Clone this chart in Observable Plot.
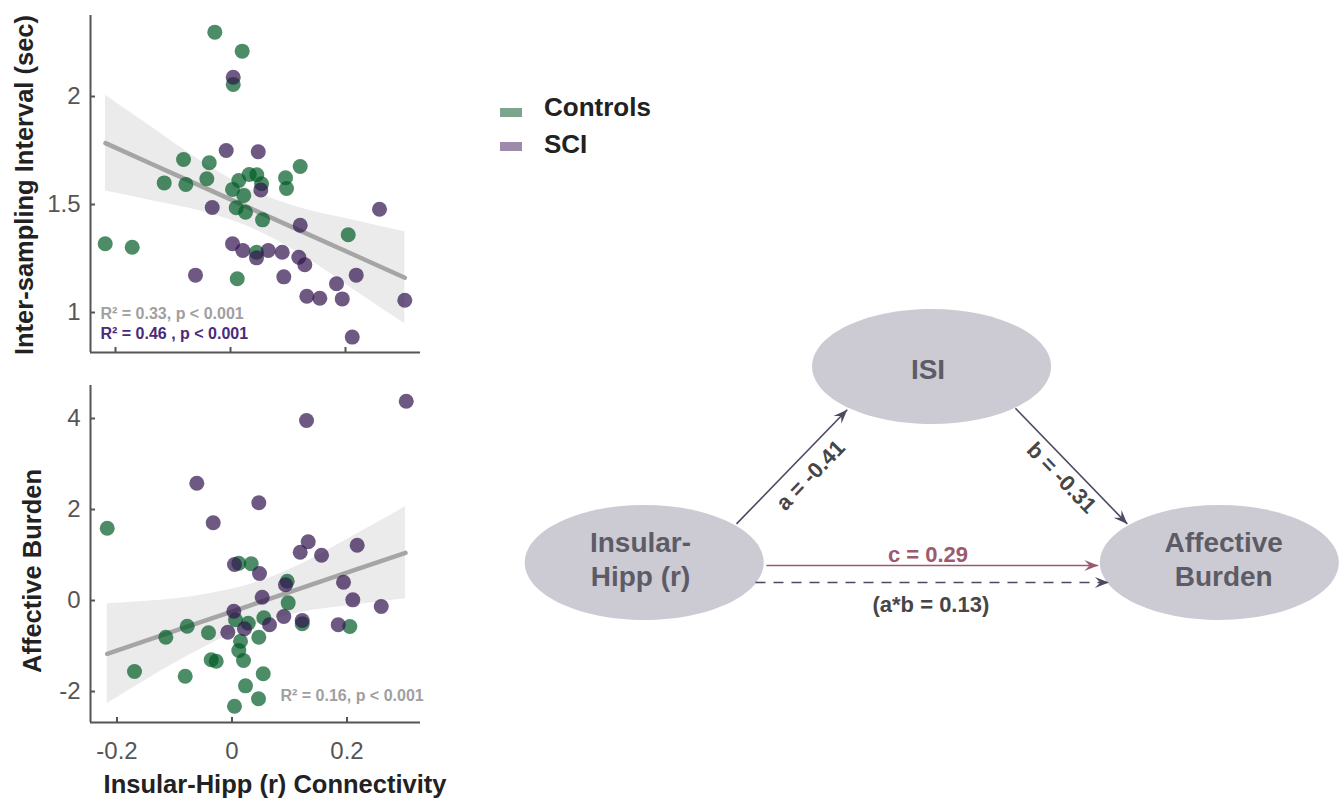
<!DOCTYPE html>
<html>
<head>
<meta charset="utf-8">
<script src="https://cdn.jsdelivr.net/npm/d3@7"></script>
<script src="https://cdn.jsdelivr.net/npm/@observablehq/plot@0.6"></script>
<style>
  html, body { margin: 0; padding: 0; background: #fff; }
  #root { position: relative; width: 1344px; height: 799px; overflow: hidden;
          font-family: "Liberation Sans", Arial, Helvetica, sans-serif; }
  #root > svg { position: absolute; }
  .ttl { position: absolute; font-weight: bold; color: #222; white-space: nowrap; line-height: 1; }
  .ytitle { transform: translate(-50%, -50%) rotate(-90deg); }
  .xtitle { transform: translate(-50%, -50%); }
  .leg-sw { position: absolute; width: 22px; height: 9px; }
  .leg-tx { position: absolute; font-size: 26px; font-weight: bold; color: #222; line-height: 1; }
</style>
</head>
<body>
<div id="root"></div>
<script>
// ---------------- DATA ----------------
// Top panel: Insular-Hipp connectivity vs Inter-sampling Interval (sec)
const ctrlConnISI = [-0.0273, 0.0203, 0.0047, -0.0817, -0.0370, 0.1212, -0.1153, -0.0777, -0.0412, 0.0144,
                     0.0325, 0.0457, 0.0957, 0.0539, 0.0974, 0.0035, 0.0231, 0.0099, 0.0261, 0.0557,
                     0.2047, -0.2179, -0.1710, 0.0452, 0.0117];
const ctrlISI =     [2.298, 2.210, 2.056, 1.708, 1.693, 1.676, 1.600, 1.593, 1.619, 1.611,
                     1.639, 1.638, 1.624, 1.596, 1.574, 1.570, 1.542, 1.485, 1.464, 1.429,
                     1.360, 1.318, 1.302, 1.279, 1.156];
const sciConnISI =  [0.0047, -0.0075, 0.0482, 0.0527, -0.0318, 0.1212, 0.2591, 0.0035, 0.0214, 0.0452,
                     0.0656, 0.0899, 0.1188, 0.1292, -0.0609, 0.0927, 0.2186, 0.1843, 0.1327, 0.1553,
                     0.1943, 0.3031, 0.2117];
const sciISI =      [2.089, 1.750, 1.744, 1.567, 1.486, 1.404, 1.478, 1.318, 1.287, 1.253,
                     1.287, 1.279, 1.256, 1.221, 1.173, 1.165, 1.173, 1.133, 1.075, 1.066,
                     1.063, 1.057, 0.886];
// fitted regression line and 95% band
const isiFitX = [-0.2174, -0.1391, -0.0522, 0.0348, 0.1217, 0.2087, 0.3031];
const isiFit  = [1.784, 1.690, 1.586, 1.482, 1.378, 1.274, 1.161];
const isiHi   = [2.006, 1.862, 1.702, 1.570, 1.484, 1.431, 1.374];
const isiLo   = [1.562, 1.519, 1.470, 1.394, 1.271, 1.116, 0.948];

// Bottom panel: connectivity vs Affective Burden
const ctrlConnAB = [0.0118, 0.0334, 0.0960, 0.0977, 0.0061, 0.0282, 0.0553, 0.1221, 0.2049, -0.0779,
                    -0.1151, -0.0409, 0.0466, 0.0148, 0.0118, -0.0362, -0.0275, 0.0200, -0.1696, -0.0814,
                    0.0543, 0.0235, 0.0461, 0.0043, -0.2170];
const ctrlAB =     [0.820, 0.807, 0.424, -0.051, -0.424, -0.499, -0.380, -0.512, -0.571, -0.565,
                    -0.807, -0.710, -0.807, -0.895, -1.099, -1.303, -1.334, -1.319, -1.560, -1.664,
                    -1.611, -1.875, -2.160, -2.323, 1.589];
const sciConnAB =  [0.3030, 0.1296, -0.0612, 0.0466, -0.0327, 0.1325, 0.2177, 0.1186, 0.1557, 0.0043,
                    0.0478, 0.0930, 0.1939, 0.0525, 0.2101, 0.2595, 0.0031, 0.0652, 0.0901, 0.1221,
                    0.1847, 0.0217, -0.0073];
const sciAB =      [4.380, 3.956, 2.578, 2.147, 1.708, 1.290, 1.215, 1.062, 0.996, 0.791,
                    0.593, 0.345, 0.402, 0.073, 0.015, -0.132, -0.235, -0.534, -0.352, -0.440,
                    -0.534, -0.622, -0.697];
const abFitX = [-0.2170, -0.1417, -0.0548, 0.0322, 0.1191, 0.2061, 0.3017];
const abFit  = [-1.171, -0.848, -0.477, -0.105, 0.266, 0.640, 1.048];
const abHi   = [-0.073, -0.013, 0.116, 0.356, 0.793, 1.387, 2.059];
const abLo   = [-2.270, -1.684, -1.070, -0.567, -0.262, -0.108, 0.037];

// ticks / labels
const xTicks = [-0.2, 0, 0.2];
const isiTicks = [1, 1.5, 2];
const abTicks = [-2, 0, 2, 4];
const statsTop = ["R² = 0.33, p < 0.001", "R² = 0.46 , p < 0.001"];
const statsBottom = ["R² = 0.16, p < 0.001"];
const groups = ["Controls", "SCI"];

// Mediation diagram (abstract layout units)
const nodeLabels = ["Insular-\nHipp (r)", "ISI", "Affective\nBurden"];
const nodeX = [0, 0.9993, 2];
const nodeY = [0, 1, 0];
const nodeTextX = [-0.0129, 0.987, 2.0153];
const nodeTextY = [0.0204, 0.992, 0.0204];
const edgeNames = ["a", "b", "c", "ab"];
const edgeX1 = [0.321, 1.291, 0.425, 0.387];
const edgeY1 = [0.197, 0.787, -0.015, -0.102];
const edgeX2 = [0.706, 1.680, 1.579, 1.616];
const edgeY2 = [0.779, 0.197, -0.015, -0.102];
const edgeLabels = ["a = -0.41", "b = -0.31", "c = 0.29", "(a*b = 0.13)"];
const edgeLabelX = [0.579, 1.451, 0.987, 0.997];
const edgeLabelY = [0.444, 0.431, 0.036, -0.219];
const edgeLabelRot = [-45.8, 46, 0, 0];

// ---------------- STYLE ----------------
const GREEN = "#005b27", PURPLE = "#30134f";
const AXIS = "#555";
const FONT = "Liberation Sans, Arial, Helvetica, sans-serif";
const root = document.getElementById("root");

const pts = (xs, ys) => xs.map((x, i) => ({x, y: ys[i]}));
const band = (xs, f, lo, hi) => xs.map((x, i) => ({x, fit: f[i], lo: lo[i], hi: hi[i]}));

function panel({width, height, mt, mb, xDomain, yDomain, yTicks, ctrl, sci, bnd, showXLabels, stats}) {
  return Plot.plot({
    width, height,
    marginLeft: 90, marginRight: 20, marginTop: mt, marginBottom: mb,
    x: {domain: xDomain},
    y: {domain: yDomain},
    style: {fontFamily: FONT, fontSize: "24px", color: AXIS, background: "transparent", overflow: "visible"},
    marks: [
      Plot.areaY(bnd, {x: "x", y1: "lo", y2: "hi", fill: "#ebebeb", curve: "monotone-x"}),
      Plot.line(bnd, {x: "x", y: "fit", stroke: "#a5a5a5", strokeWidth: 4.5}),
      Plot.dot(ctrl, {x: "x", y: "y", r: 7.5, fill: GREEN, fillOpacity: 0.7, stroke: "none"}),
      Plot.dot(sci, {x: "x", y: "y", r: 7.5, fill: PURPLE, fillOpacity: 0.7, stroke: "none"}),
      Plot.ruleX([xDomain[0]], {stroke: AXIS, strokeWidth: 2}),
      Plot.ruleY([yDomain[0]], {stroke: AXIS, strokeWidth: 2}),
      // inward ticks: outward ticks of length 5 shifted into the frame
      Plot.axisY({ticks: yTicks, tickSize: 5, dx: 5, fill: "none", stroke: AXIS, strokeWidth: 2, label: null}),
      Plot.axisY({ticks: yTicks, tickSize: 0, tickPadding: 10, tickFormat: d => String(d),
                  fill: AXIS, fontSize: 24, label: null}),
      Plot.axisX({ticks: xTicks, tickSize: 5, dy: -5, fill: "none", stroke: AXIS, strokeWidth: 2, label: null}),
      showXLabels
        ? Plot.axisX({ticks: xTicks, tickSize: 0, tickPadding: 19, tickFormat: d => String(d),
                      fill: AXIS, fontSize: 24, label: null})
        : null,
      ...stats
    ]
  });
}

const topSvg = panel({
  width: 440, height: 370, mt: 15, mb: 18,
  xDomain: [-0.2435, 0.3304], yDomain: [0.8148, 2.375], yTicks: isiTicks,
  ctrl: pts(ctrlConnISI, ctrlISI), sci: pts(sciConnISI, sciISI),
  bnd: band(isiFitX, isiFit, isiLo, isiHi), showXLabels: false,
  stats: [
    Plot.text([statsTop[0]], {frameAnchor: "bottom-left", dx: 10, dy: -34, textAnchor: "start",
      fill: "#a0a0a0", fontWeight: "bold", fontSize: 16}),
    Plot.text([statsTop[1]], {frameAnchor: "bottom-left", dx: 10, dy: -14, textAnchor: "start",
      fill: "#4b2a7b", fontWeight: "bold", fontSize: 16})
  ]
});
topSvg.style.left = "0px"; topSvg.style.top = "0px";
root.appendChild(topSvg);

const botSvg = panel({
  width: 440, height: 429, mt: 15, mb: 77,
  xDomain: [-0.2461, 0.3278], yDomain: [-2.681, 4.725], yTicks: abTicks,
  ctrl: pts(ctrlConnAB, ctrlAB), sci: pts(sciConnAB, sciAB),
  bnd: band(abFitX, abFit, abLo, abHi), showXLabels: true,
  stats: [
    Plot.text([statsBottom[0]], {frameAnchor: "bottom-left", dx: 190, dy: -22, textAnchor: "start",
      fill: "#a0a0a0", fontWeight: "bold", fontSize: 16})
  ]
});
botSvg.style.left = "0px"; botSvg.style.top = "370px";
root.appendChild(botSvg);

// axis titles
function addDiv(cls, text, left, top, size) {
  const d = document.createElement("div");
  d.className = cls; d.textContent = text;
  d.style.left = left + "px"; d.style.top = top + "px"; d.style.fontSize = size + "px";
  root.appendChild(d);
  return d;
}
addDiv("ttl ytitle", "Inter-sampling Interval (sec)", 25, 185, 25.5);
addDiv("ttl ytitle", "Affective Burden", 32.5, 571, 25.5);
addDiv("ttl xtitle", "Insular-Hipp (r) Connectivity", 275, 785, 25.5);

// legend
const legColors = ["#7ba58c", "#9e8aab"];
const legY = [108, 142];
const legTextY = [94, 130.5];
groups.forEach((g, i) => {
  const sw = document.createElement("div");
  sw.className = "leg-sw"; sw.style.left = "500px"; sw.style.top = legY[i] + "px";
  sw.style.background = legColors[i];
  root.appendChild(sw);
  const tx = document.createElement("div");
  tx.className = "leg-tx"; tx.textContent = g;
  tx.style.left = "544px"; tx.style.top = legTextY[i] + "px";
  root.appendChild(tx);
});

// ---------------- DIAGRAM ----------------
const nodes = nodeLabels.map((label, i) => ({label, x: nodeX[i], y: nodeY[i], tx: nodeTextX[i], ty: nodeTextY[i]}));
const edges = edgeNames.map((name, i) => ({
  name, x1: edgeX1[i], y1: edgeY1[i], x2: edgeX2[i], y2: edgeY2[i],
  label: edgeLabels[i], lx: edgeLabelX[i], ly: edgeLabelY[i], rot: edgeLabelRot[i]
}));
const solidEdges = edges.filter(e => e.name !== "ab");
const dashedEdges = edges.filter(e => e.name === "ab");
const edgeColor = e => e.name === "c" ? "#9c5a6f" : "#4a4a62";

const ellipseSymbol = {
  draw(ctx, size) {
    const ry = Math.sqrt(size / Math.PI), rx = ry * 2.078, k = 0.5523;
    ctx.moveTo(rx, 0);
    ctx.bezierCurveTo(rx, ry * k, rx * k, ry, 0, ry);
    ctx.bezierCurveTo(-rx * k, ry, -rx, ry * k, -rx, 0);
    ctx.bezierCurveTo(-rx, -ry * k, -rx * k, -ry, 0, -ry);
    ctx.bezierCurveTo(rx * k, -ry, rx, -ry * k, rx, 0);
    ctx.closePath();
  }
};
const headSymbol = {
  draw(ctx) {
    const L = 14, W = 11;
    ctx.moveTo(0, 0);
    ctx.lineTo(-L, -W / 2);
    ctx.lineTo(-L * 0.62, 0);
    ctx.lineTo(-L, W / 2);
    ctx.closePath();
  }
};

const diagSvg = Plot.plot({
  width: 904, height: 380,
  margin: 0,
  x: {domain: [0, 2], range: [203.7, 778.8]},
  y: {domain: [0, 1], range: [282, 86]},
  axis: null,
  style: {fontFamily: FONT, background: "transparent", overflow: "visible"},
  marks: [
    Plot.dot(nodes, {x: "x", y: "y", r: 57.5, symbol: ellipseSymbol, fill: "#cccbd4", stroke: "none"}),
    Plot.text(nodes, {x: "tx", y: "ty", text: "label", fill: "#5d5c66", fontWeight: "bold",
      fontSize: 28, lineHeight: 1.2}),
    Plot.link(solidEdges, {x1: "x1", y1: "y1", x2: "x2", y2: "y2", stroke: edgeColor, strokeWidth: 1.6}),
    Plot.link(dashedEdges, {x1: "x1", y1: "y1", x2: "x2", y2: "y2", stroke: edgeColor, strokeWidth: 1.6,
      strokeDasharray: "10,8"}),
    Plot.dot(edges, {x: "x2", y: "y2", r: 1, symbol: headSymbol, fill: edgeColor, stroke: "none",
      rotate: e => Math.atan2(-(e.y2 - e.y1) * 196, (e.x2 - e.x1) * 287.55) * 180 / Math.PI}),
    Plot.text(edges, {x: "lx", y: "ly", text: "label", rotate: "rot",
      fill: e => e.name === "c" ? "#9c5a6f" : "#464646", fontWeight: "bold", fontSize: 22})
  ]
});
diagSvg.style.left = "440px"; diagSvg.style.top = "280px";
root.appendChild(diagSvg);
</script>
</body>
</html>
